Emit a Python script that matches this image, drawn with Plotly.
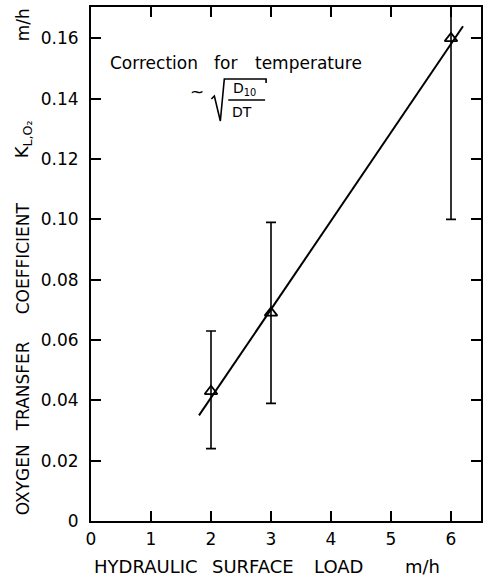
import plotly.graph_objects as go

# Measured oxygen transfer coefficient vs hydraulic surface load
load = [2, 3, 6]
kl_o2 = [0.043, 0.069, 0.160]
err_plus = [0.020, 0.030, 0.060]
err_minus = [0.019, 0.030, 0.060]

# Fitted regression line
fit_x = [1.8, 6.2]
fit_y = [0.035, 0.164]

x_ticks = [0, 1, 2, 3, 4, 5, 6]
y_ticks = [0, 0.02, 0.04, 0.06, 0.08, 0.10, 0.12, 0.14, 0.16]
y_tick_text = ["0", "0.02", "0.04", "0.06", "0.08", "0.10", "0.12", "0.14", "0.16"]

W, H = 485, 580
ML, MR, MT, MB = 91, 2, 7, 59
PW, PH = W - ML - MR, H - MT - MB
FONT = "DejaVu Sans"


def px(x):
    return (x - ML) / PW


def py(y):
    return (H - MB - y) / PH


fig = go.Figure()

fig.add_trace(go.Scatter(
    x=fit_x, y=fit_y, mode="lines",
    line=dict(color="black", width=2), hoverinfo="skip",
))

fig.add_trace(go.Scatter(
    x=load, y=kl_o2, mode="markers",
    marker=dict(symbol="triangle-up-open", size=11, color="black",
                line=dict(width=1.8, color="black")),
    error_y=dict(type="data", array=err_plus, arrayminus=err_minus,
                 color="black", thickness=1.6, width=5),
))

axis_common = dict(
    showgrid=False, zeroline=False, showline=True, linecolor="black",
    linewidth=2, mirror="ticks", ticks="inside", ticklen=10, tickwidth=1.5,
    tickcolor="black", tickfont=dict(family=FONT, size=17, color="black"),
)

fig.update_xaxes(range=[0, 6.5], tickvals=x_ticks, ticklabelstandoff=2,
                 **axis_common)
fig.update_yaxes(range=[0, 0.1704], tickvals=y_ticks, ticktext=y_tick_text,
                 ticklabelstandoff=7, **axis_common)

title_font = dict(family=FONT, size=18, color="black")
ytitle_font = dict(family=FONT, size=17, color="black")
note_font = dict(family=FONT, size=17, color="black")
frac_font = dict(family=FONT, size=14, color="black")
annotations = [
    # x axis title, word by word
    dict(text="HYDRAULIC", x=px(146), y=py(566)),
    dict(text="SURFACE", x=px(254), y=py(566)),
    dict(text="LOAD", x=px(340), y=py(566)),
    dict(text="m/h", x=px(424), y=py(566)),
    # y axis title, word by word
    dict(text="OXYGEN", x=px(23), y=py(480), textangle=-90, font=ytitle_font),
    dict(text="TRANSFER", x=px(23), y=py(386), textangle=-90, font=ytitle_font),
    dict(text="COEFFICIENT", x=px(23), y=py(258), textangle=-90, font=ytitle_font),
    dict(text="K<sub>L,O₂</sub>", x=px(23), y=py(139), textangle=-90),
    dict(text="m/h", x=px(23), y=py(25), textangle=-90, font=ytitle_font),
    # temperature correction note
    dict(text="Correction", x=px(108), y=py(63), xanchor="left", font=note_font),
    dict(text="for", x=px(213), y=py(63), xanchor="left", font=note_font),
    dict(text="temperature", x=px(254), y=py(63), xanchor="left", font=note_font),
    dict(text="~", x=px(198), y=py(92), font=note_font),
    dict(text="D<sub>10</sub>", x=px(245), y=py(89), font=frac_font),
    dict(text="DT", x=px(243), y=py(112), font=frac_font),
]
for a in annotations:
    a.setdefault("font", title_font)
    a.update(xref="paper", yref="paper", showarrow=False)
    a.setdefault("xanchor", "center")
    a.setdefault("yanchor", "middle")
    fig.add_annotation(**a)

# radical sign and fraction bar
rad = (f"M {px(212)} {py(99)} L {px(215)} {py(96)} L {px(221)} {py(121)} "
       f"L {px(225)} {py(79)} L {px(267)} {py(79)} L {px(267)} {py(83)}")
fig.add_shape(type="path", path=rad, xref="paper", yref="paper",
              line=dict(color="black", width=1.6))
fig.add_shape(type="line", x0=px(229), x1=px(266), y0=py(100), y1=py(100),
              xref="paper", yref="paper", line=dict(color="black", width=1.6))

fig.update_layout(
    width=W, height=H, showlegend=False,
    margin=dict(l=ML, r=MR, t=MT, b=MB),
    paper_bgcolor="white", plot_bgcolor="white",
)

fig.write_html("out.html")
